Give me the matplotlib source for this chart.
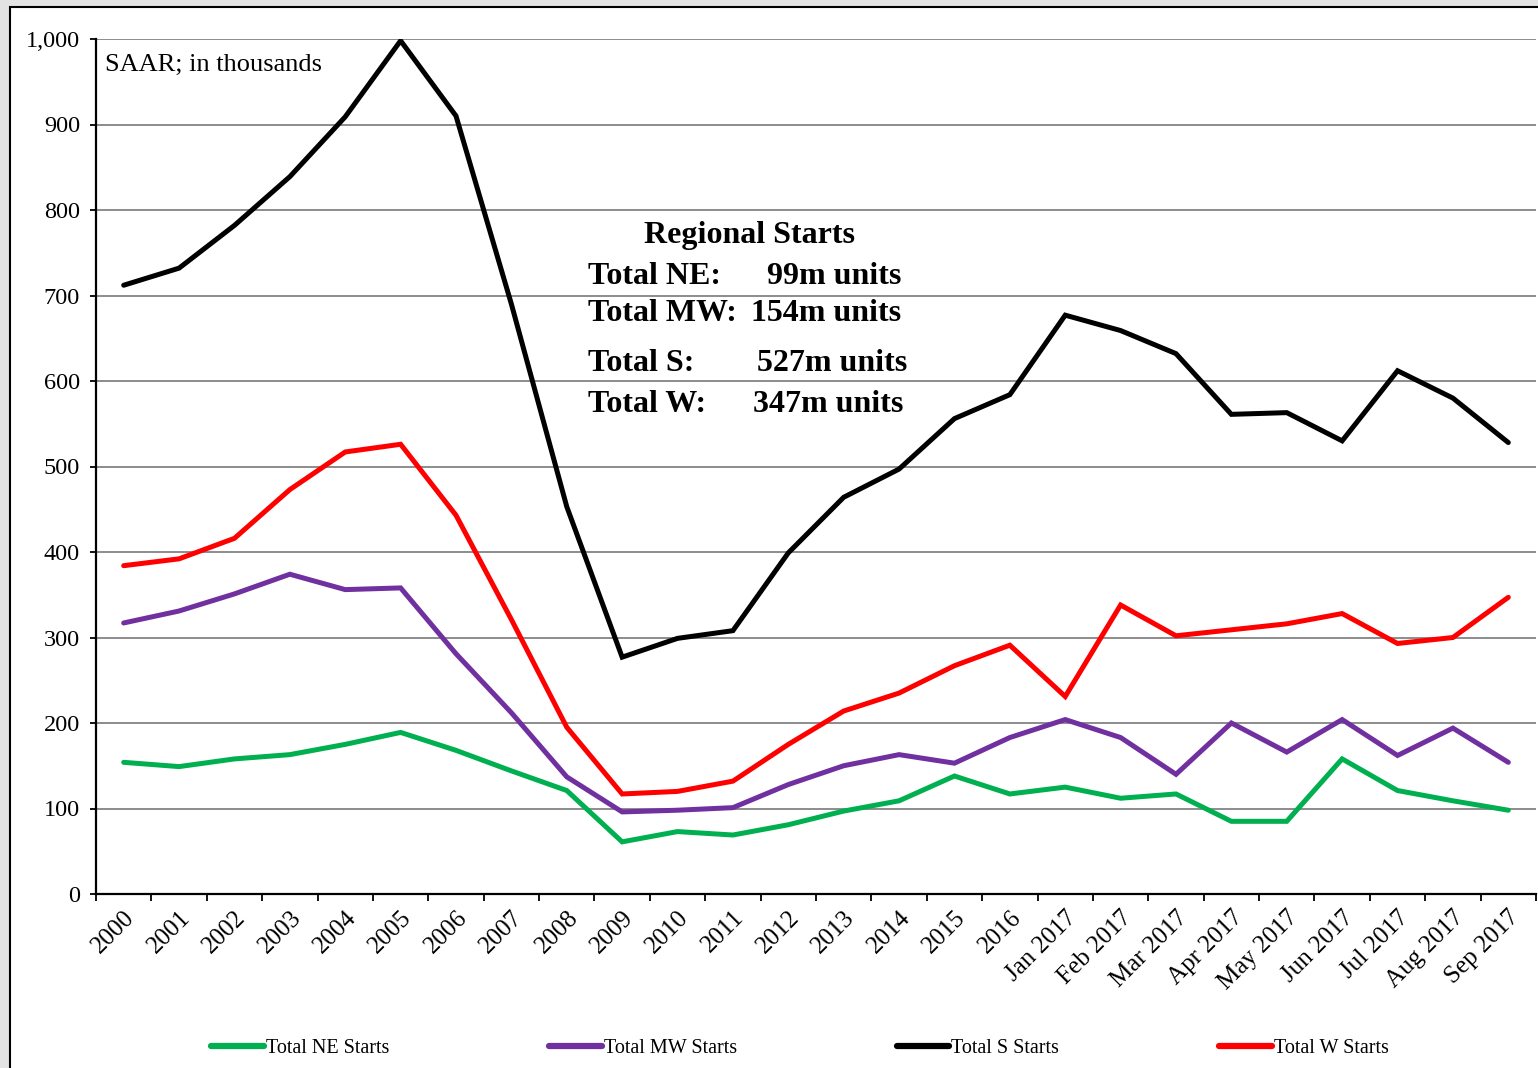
import numpy as np
import matplotlib.pyplot as plt
from matplotlib.patches import Rectangle
from matplotlib.ticker import FuncFormatter

# --- data (SAAR, thousands) ---
periods = ["2000", "2001", "2002", "2003", "2004", "2005", "2006", "2007",
           "2008", "2009", "2010", "2011", "2012", "2013", "2014", "2015",
           "2016", "Jan 2017", "Feb 2017", "Mar 2017", "Apr 2017",
           "May 2017", "Jun 2017", "Jul 2017", "Aug 2017", "Sep 2017"]

ne_starts = [154, 149, 158, 163, 175, 189, 168, 144, 121, 61, 73, 69, 81,
             97, 109, 138, 117, 125, 112, 117, 85, 85, 158, 121, 109, 98]
mw_starts = [317, 331, 351, 374, 356, 358, 281, 212, 137, 96, 98, 101, 128,
             150, 163, 153, 183, 204, 183, 140, 200, 166, 204, 162, 194, 154]
s_starts = [712, 732, 782, 839, 909, 998, 910, 690, 453, 277, 299, 308, 399,
            464, 497, 556, 584, 677, 659, 632, 561, 563, 530, 612, 580, 528]
w_starts = [384, 392, 416, 473, 517, 526, 443, 321, 195, 117, 120, 132, 175,
            214, 235, 267, 291, 231, 338, 302, 309, 316, 328, 293, 300, 347]

summary_labels = ["Total NE:", "Total MW:", "Total S:", "Total W:"]
summary_values = ["99m units", "154m units", "527m units", "347m units"]

plt.rcParams["font.family"] = ["Liberation Serif", "DejaVu Serif"]

W, H = 1538, 1068
fig = plt.figure(figsize=(W / 100, H / 100), dpi=100, facecolor="#e3e3e3")

# --- white chart frame ---
fig.patches.append(Rectangle((10 / W, -0.05), 1.1, 1 - 7 / H + 0.05,
                             transform=fig.transFigure, facecolor="white",
                             edgecolor="black", linewidth=1.5, zorder=-5))

ax = fig.add_axes([96 / W, 1 - 894 / H, 1440 / W, (894 - 39) / H])
ax.set_zorder(2)
ax.set_facecolor("white")

x = np.arange(len(periods))
series = [
    (ne_starts, "#00B050", "Total NE Starts"),
    (mw_starts, "#7030A0", "Total MW Starts"),
    (s_starts, "black", "Total S Starts"),
    (w_starts, "#FF0000", "Total W Starts"),
]
for vals, col, lab in series:
    ax.plot(x, vals, color=col, linewidth=3.6, label=lab,
            solid_capstyle="round", solid_joinstyle="miter", zorder=3)

# --- axes ---
ax.set_xlim(-0.5, len(periods) - 0.5)
ax.set_ylim(0, 1000)
ax.set_yticks(np.arange(0, 1001, 100))
ax.yaxis.set_major_formatter(FuncFormatter(lambda v, p: f"{int(v):,}"))
ax.grid(axis="y", color="#8c8c8c", linewidth=1.4, zorder=1)
ax.set_axisbelow(True)

ax.set_xticks(np.arange(-0.5, len(periods), 1))
ax.set_xticklabels([])
ax.set_xticks(x, minor=True)
ax.set_xticklabels(periods, minor=True, rotation=45, ha="right",
                   rotation_mode="anchor", fontsize=18)
ax.tick_params(axis="x", which="major", direction="out", length=5,
               width=1.3, color="black")
ax.tick_params(axis="x", which="minor", length=0, pad=9)
ax.tick_params(axis="y", direction="out", length=4.5, width=1.3,
               labelsize=17.5, pad=7)

for side in ["top", "right"]:
    ax.spines[side].set_visible(False)
for side in ["left", "bottom"]:
    ax.spines[side].set_linewidth(1.6)

ax.text(0.006, 0.97, "SAAR; in thousands", transform=ax.transAxes,
        fontsize=19, va="center", ha="left")

# --- summary box ---
fig.text(750 / W, 1 - 236 / H, "Regional Starts", fontsize=23,
         fontweight="bold", ha="center", va="center", zorder=5)
row_y = [276, 314, 364, 404]
val_right = [901, 901, 907, 903]
for lab, val, yy, xr in zip(summary_labels, summary_values, row_y, val_right):
    fig.text(588 / W, 1 - yy / H, lab, fontsize=23, fontweight="bold",
             ha="left", va="center", zorder=5)
    fig.text(xr / W, 1 - yy / H, val, fontsize=23, fontweight="bold",
             ha="right", va="center", zorder=5)

# --- legend ---
leg = fig.legend(loc="center", bbox_to_anchor=(800 / W, 1 - 1048 / H), ncol=4,
                 frameon=False, fontsize=14.5, handlelength=2.6,
                 handletextpad=0.1, columnspacing=7.95)
for h in leg.legend_handles:
    h.set_linewidth(4.5)

fig.savefig("out.png", dpi=100, facecolor=fig.get_facecolor())
